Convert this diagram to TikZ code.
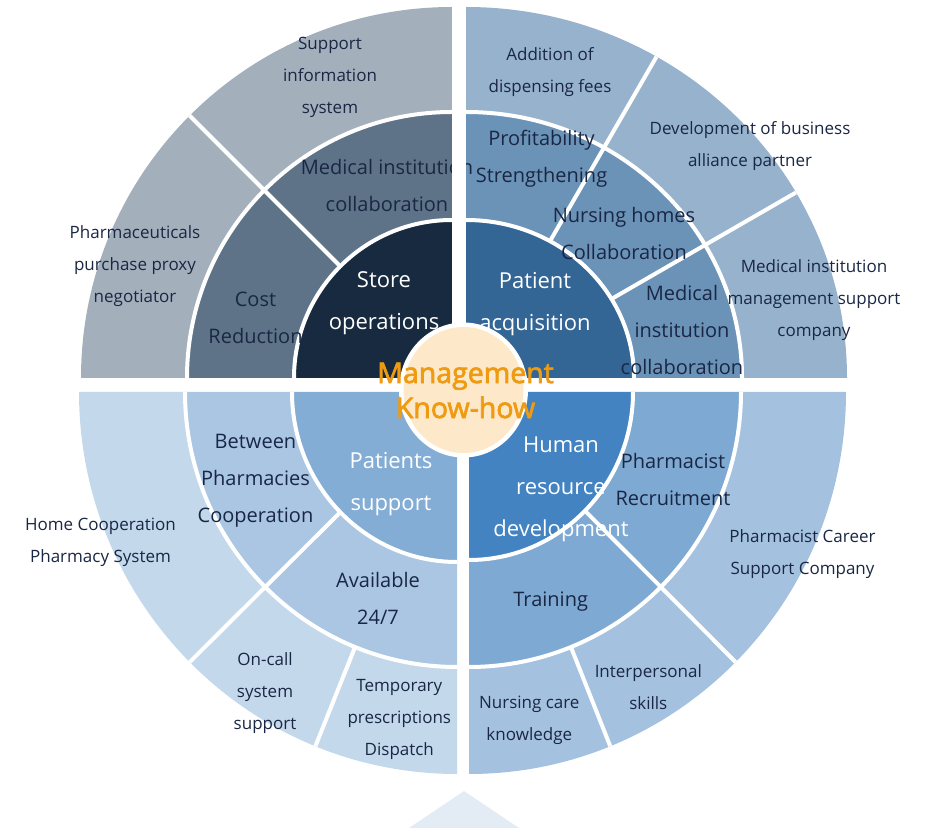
\documentclass[tikz,border=0pt]{standalone}
\usepackage{fontspec}
\setmainfont{Open Sans}
\newfontfamily\semib[FakeBold=2.4]{Open Sans}
\usetikzlibrary{calc}
\definecolor{tlA}{HTML}{172A40}
\definecolor{tlB}{HTML}{5E7388}
\definecolor{tlC}{HTML}{A4AFBC}
\definecolor{trA}{HTML}{336595}
\definecolor{trB}{HTML}{6B93B7}
\definecolor{trC}{HTML}{97B2CC}
\definecolor{blA}{HTML}{84ADD5}
\definecolor{blB}{HTML}{AAC6E3}
\definecolor{blC}{HTML}{C3D8EB}
\definecolor{brA}{HTML}{4483C1}
\definecolor{brB}{HTML}{7EA9D2}
\definecolor{brC}{HTML}{A4C2DF}
\definecolor{txt}{HTML}{1A2744}
\definecolor{orng}{HTML}{EE9B12}
\definecolor{peach}{HTML}{FDE9C9}
\definecolor{tri}{HTML}{E3ECF5}
% sector: apex, a1, a2, rin x, rin y, rout x, rout y, colour
\newcommand{\sect}[8]{%
  \fill[#8] ($(#1)+(#2:#6 and #7)$) arc[start angle=#2, end angle=#3, x radius=#6, y radius=#7]
    -- ($(#1)+(#3:#4 and #5)$) arc[start angle=#3, end angle=#2, x radius=#4, y radius=#5] -- cycle;}
% ring separator: apex, a1, a2, r x, r y
\newcommand{\sarc}[5]{%
  \draw[sepline] ($(#1)+(#2:#4 and #5)$) arc[start angle=#2, end angle=#3, x radius=#4, y radius=#5];}
% radial separator: apex, angle, r1x, r1y, r2x, r2y
\newcommand{\srad}[6]{%
  \draw[sepline] ($(#1)+(#2:#3 and #4)$) -- ($(#1)+(#2:#5 and #6)$);}
\tikzset{
  sepline/.style={draw=white, line width=4pt},
  lbl/.style={align=center, text=txt, inner sep=0pt},
  innerlbl/.style={lbl, text=white, font=\fontsize{22}{42}\selectfont, yshift=-2.5pt},
  midlbl/.style={lbl, font=\fontsize{20}{37}\selectfont, yshift=-1pt},
  outlbl/.style={lbl, font=\fontsize{17}{32}\selectfont, yshift=-1.5pt},
}
\begin{document}
\begin{tikzpicture}[x=1pt, y=1pt]
\useasboundingbox (0,0) rectangle (929,828);
\coordinate (TL) at (452,450);
\coordinate (TR) at (466,450);
\coordinate (BL) at (457,436);
\coordinate (BR) at (469,436);
% ---- top left
\sect{TL}{90}{180}{0.01}{0.01}{158}{158}{tlA}
\sect{TL}{90}{180}{158}{158}{265}{266}{tlB}
\sect{TL}{90}{180}{265}{266}{371}{371}{tlC}
% ---- top right
\sect{TR}{0}{90}{0.01}{0.01}{168}{158}{trA}
\sect{TR}{0}{90}{168}{158}{276}{266}{trB}
\sect{TR}{0}{90}{276}{266}{381}{371}{trC}
% ---- bottom left
\sect{BL}{180}{270}{0.01}{0.01}{165}{170}{blA}
\sect{BL}{180}{270}{165}{170}{272}{275}{blB}
\sect{BL}{180}{270}{272}{275}{378}{382}{blC}
% ---- bottom right
\sect{BR}{270}{360}{0.01}{0.01}{164}{168}{brA}
\sect{BR}{270}{360}{164}{168}{272}{275}{brB}
\sect{BR}{270}{360}{272}{275}{377}{382}{brC}
% ---- separators
\sarc{TL}{90}{180}{158}{158}
\sarc{TL}{90}{180}{265}{266}
\srad{TL}{135}{158}{158}{371}{371}
\sarc{TR}{0}{90}{168}{158}
\sarc{TR}{0}{90}{276}{266}
\srad{TR}{60}{168}{158}{381}{371}
\srad{TR}{30}{168}{158}{381}{371}
\sarc{BL}{180}{270}{165}{170}
\sarc{BL}{180}{270}{272}{275}
\srad{BL}{225}{165}{170}{378}{382}
\srad{BL}{248}{272}{275}{378}{382}
\sarc{BR}{270}{360}{164}{168}
\sarc{BR}{270}{360}{272}{275}
\srad{BR}{315}{164}{168}{377}{382}
\srad{BR}{292}{272}{275}{377}{382}
% ---- bottom triangle
\fill[tri] (464,37) -- (409,0) -- (519,0) -- cycle;
% ---- labels top left
\node[innerlbl] (storeop) at (384,527) {Store\\operations};
\node[midlbl] (medcollA) at (387,643.3) {Medical institution\\collaboration};
\node[midlbl] (costred) at (255.5,511) {Cost\\Reduction};
\node[outlbl] (supinfo) at (330,752) {Support\\information\\system};
\node[outlbl] (pharmproxy) at (135,563.3) {Pharmaceuticals\\purchase proxy\\negotiator};
% ---- labels top right
\node[innerlbl] (patacq) at (535,526.7) {Patient\\acquisition};
\node[midlbl] (profit) at (541.5,670) {Profitability\\Strengthening};
\node[midlbl] (nursing) at (624,595.7) {Nursing homes\\Collaboration};
\node[midlbl] (medcollB) at (682,499.2) {Medical\\institution\\collaboration};
\node[outlbl] (dispfee) at (550,757.2) {Addition of\\dispensing fees};
\node[outlbl] (devbiz) at (750,683.8) {Development of business\\alliance partner};
\node[outlbl] (medmgmt) at (814,529.5) {Medical institution\\management support\\company};
% ---- labels bottom left
\node[innerlbl] (patsup) at (391,346.3) {Patients\\support};
\node[midlbl] (betpharm) at (255.5,348.3) {Between\\Pharmacies\\Cooperation};
\node[midlbl] (avail) at (378,230.5) {Available\\24/7};
\node[outlbl] (homecoop) at (100.5,287) {Home Cooperation\\Pharmacy System};
\node[outlbl] (oncall) at (265,136.2) {On-call\\system\\support};
\node[outlbl] (tempres) at (399.3,109.7) {Temporary\\prescriptions\\Dispatch};
% ---- labels bottom right
\node[innerlbl] (humres) at (561,341.3) {Human\\resource\\development};
\node[midlbl] (pharmrec) at (673,349) {Pharmacist\\Recruitment};
\node[midlbl] (training) at (550.7,227) {Training};
\node[outlbl] (career) at (802.5,275) {Pharmacist Career\\Support Company};
\node[outlbl] (interp) at (648.3,142.2) {Interpersonal\\skills};
\node[outlbl] (nurscare) at (529.3,109.5) {Nursing care\\knowledge};
% ---- gap over the top
\fill[white] (452,450) rectangle (466,828);
% ---- centre
\fill[white] (463.5,438) ellipse [x radius=64.5, y radius=67.5];
\fill[peach] (463.5,438) ellipse [x radius=60, y radius=63];
\node[lbl, text=orng, font=\semib\fontsize{28.5}{35}\selectfont] (centre) at (465.5,437.5) {Management\\Know-how};
\end{tikzpicture}
\end{document}
